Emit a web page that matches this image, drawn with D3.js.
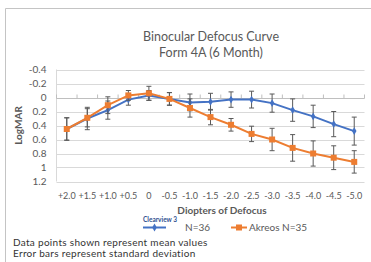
<!DOCTYPE html>
<html>
<head>
<meta charset="utf-8">
<script src="https://cdn.jsdelivr.net/npm/d3@7"></script>
<style>
  body { margin: 0; background: #fff; }
  svg { display: block; font-family: Lato, "Open Sans", sans-serif; }
</style>
</head>
<body>
<div id="chart"></div>
<script>
// values (LogMAR, smaller = better)
const categories = ["+2.0", "+1.5", "+1.0", "+0.5", "0", "-0.5", "-1.0", "-1.5", "-2.0", "-2.5", "-3.0", "-3.5", "-4.0", "-4.5", "-5.0"];
const clearview = [0.45, 0.30, 0.18, 0.03, -0.03, 0.02, 0.07, 0.06, 0.03, 0.03, 0.08, 0.18, 0.27, 0.38, 0.48];
const clearviewSD = [0.16, 0.16, 0.13, 0.08, 0.07, 0.09, 0.12, 0.12, 0.11, 0.12, 0.13, 0.16, 0.16, 0.18, 0.20];
const akreos = [0.45, 0.29, 0.11, -0.03, -0.06, 0.02, 0.15, 0.28, 0.39, 0.52, 0.60, 0.72, 0.80, 0.86, 0.92];
const akreosSD = [0.16, 0.13, 0.12, 0.07, 0.10, 0.09, 0.13, 0.11, 0.09, 0.11, 0.16, 0.19, 0.18, 0.17, 0.16];
const yTicks = [-0.4, -0.2, 0, 0.2, 0.4, 0.6, 0.8, 1, 1.2];

const width = 371, height = 262;
const plotLeft = 56.5, plotRight = 364.5, plotTop = 69.5, plotBottom = 181.5;

const svg = d3.select("#chart").append("svg")
    .attr("width", width)
    .attr("height", height);

// outer frame (only top and left edges show)
svg.append("path")
    .attr("d", `M5.5,${height}V8.5H${width}`)
    .attr("fill", "none")
    .attr("stroke", "#c4c4c4")
    .attr("stroke-width", 1);

const x = d3.scaleBand().domain(categories).range([plotLeft, plotRight]);
const y = d3.scaleLinear().domain([-0.4, 1.2]).range([plotTop, plotBottom]);

// gridlines
svg.append("g").selectAll("line")
    .data(yTicks.filter(d => d !== 0))
    .enter().append("line")
    .attr("x1", plotLeft).attr("x2", plotRight)
    .attr("y1", d => Math.round(y(d)) + 0.5).attr("y2", d => Math.round(y(d)) + 0.5)
    .attr("stroke", "#d9d9d9");

svg.append("line")
    .attr("x1", plotLeft).attr("x2", plotLeft)
    .attr("y1", plotTop).attr("y2", plotBottom)
    .attr("stroke", "#d9d9d9");

// category axis sits on the 0 line, ticks between categories
const y0 = Math.round(y(0)) + 0.5;
svg.append("line")
    .attr("x1", plotLeft).attr("x2", plotRight)
    .attr("y1", y0).attr("y2", y0)
    .attr("stroke", "#bfbfbf");
svg.append("g").selectAll("line")
    .data(categories.concat(["end"]))
    .enter().append("line")
    .attr("x1", (d, i) => plotLeft + i * x.bandwidth())
    .attr("x2", (d, i) => plotLeft + i * x.bandwidth())
    .attr("y1", y0).attr("y2", y0 - 4)
    .attr("stroke", "#bfbfbf");

// y axis labels
const yAxis = svg.append("g")
    .attr("transform", `translate(${plotLeft - 7},0)`)
    .call(d3.axisLeft(y).tickValues(yTicks).tickSize(0).tickFormat(d => String(+d.toFixed(1))));
yAxis.select(".domain").remove();
yAxis.selectAll("text")
    .attr("fill", "#595959")
    .attr("font-size", 10)
    .attr("font-family", "Lato, sans-serif");

// x labels at bottom
const xAxis = svg.append("g")
    .attr("transform", `translate(0,${plotBottom + 8})`)
    .call(d3.axisBottom(x).tickSize(0));
xAxis.select(".domain").remove();
xAxis.selectAll("text")
    .attr("fill", "#595959")
    .attr("font-size", 9)
    .attr("font-family", "Lato, sans-serif");

// error bars
const drawErrors = (vals, sds) => {
    const g = svg.append("g").attr("stroke", "#595959").attr("stroke-width", 1);
    vals.forEach((v, i) => {
        const cx = x(categories[i]) + x.bandwidth() / 2;
        const y1 = y(v - sds[i]), y2 = y(v + sds[i]);
        g.append("line").attr("x1", cx).attr("x2", cx).attr("y1", y1).attr("y2", y2);
        g.append("line").attr("x1", cx - 2.5).attr("x2", cx + 2.5).attr("y1", y1).attr("y2", y1);
        g.append("line").attr("x1", cx - 2.5).attr("x2", cx + 2.5).attr("y1", y2).attr("y2", y2);
    });
};

const line = d3.line()
    .x((d, i) => x(categories[i]) + x.bandwidth() / 2)
    .y(d => y(d));

drawErrors(clearview, clearviewSD);
svg.append("path")
    .datum(clearview)
    .attr("d", line)
    .attr("fill", "none")
    .attr("stroke", "#4472c4")
    .attr("stroke-width", 2);
svg.append("g").selectAll("path")
    .data(clearview)
    .enter().append("path")
    .attr("d", d3.symbol(d3.symbolDiamond, 18))
    .attr("transform", (d, i) => `translate(${x(categories[i]) + x.bandwidth() / 2},${y(d)})`)
    .attr("fill", "#4472c4");

drawErrors(akreos, akreosSD);
svg.append("path")
    .datum(akreos)
    .attr("d", line)
    .attr("fill", "none")
    .attr("stroke", "#ed7d31")
    .attr("stroke-width", 2);
svg.append("g").selectAll("rect")
    .data(akreos)
    .enter().append("rect")
    .attr("x", (d, i) => x(categories[i]) + x.bandwidth() / 2 - 3)
    .attr("y", d => y(d) - 3)
    .attr("width", 6).attr("height", 6)
    .attr("fill", "#ed7d31");

// titles
const title = svg.append("text")
    .attr("x", 211).attr("y", 41)
    .attr("text-anchor", "middle")
    .attr("fill", "#595959")
    .attr("font-size", 12.5);
title.append("tspan").attr("x", 211).text("Binocular Defocus Curve");
title.append("tspan").attr("x", 211).attr("dy", 16).text("Form 4A (6 Month)");

svg.append("text")
    .attr("transform", `translate(22,${(plotTop + plotBottom) / 2}) rotate(-90)`)
    .attr("text-anchor", "middle")
    .attr("fill", "#595959")
    .attr("font-size", 10)
    .attr("font-weight", "bold")
    .text("LogMAR");

svg.append("text")
    .attr("x", 222).attr("y", 214)
    .attr("text-anchor", "middle")
    .attr("fill", "#595959")
    .attr("font-size", 10)
    .attr("font-weight", "bold")
    .text("Diopters of Defocus");

// legend
const legend = svg.append("g");
legend.append("text")
    .attr("x", 143).attr("y", 222)
    .attr("fill", "#2f4f8f")
    .attr("font-size", 6.5)
    .attr("font-weight", "bold")
    .text("Clearview 3");
legend.append("line")
    .attr("x1", 143).attr("x2", 166).attr("y1", 227.5).attr("y2", 227.5)
    .attr("stroke", "#4472c4").attr("stroke-width", 2);
legend.append("path")
    .attr("d", d3.symbol(d3.symbolDiamond, 18))
    .attr("transform", "translate(154.5,227.5)")
    .attr("fill", "#4472c4");
legend.append("text")
    .attr("x", 185).attr("y", 231)
    .attr("fill", "#595959")
    .attr("font-size", 10)
    .text("N=36");
legend.append("line")
    .attr("x1", 231).attr("x2", 247).attr("y1", 227.5).attr("y2", 227.5)
    .attr("stroke", "#ed7d31").attr("stroke-width", 2);
legend.append("rect")
    .attr("x", 236).attr("y", 224.5).attr("width", 6).attr("height", 6)
    .attr("fill", "#ed7d31");
legend.append("text")
    .attr("x", 249).attr("y", 231)
    .attr("fill", "#595959")
    .attr("font-size", 10)
    .text("Akreos N=35");

// footnotes
svg.append("text")
    .attr("x", 13).attr("y", 246)
    .attr("fill", "#333")
    .attr("font-size", 10)
    .attr("letter-spacing", 0.3)
    .text("Data points shown represent mean values");
svg.append("text")
    .attr("x", 13).attr("y", 257)
    .attr("fill", "#333")
    .attr("font-size", 10)
    .attr("letter-spacing", 0.3)
    .text("Error bars represent standard deviation");
</script>
</body>
</html>
